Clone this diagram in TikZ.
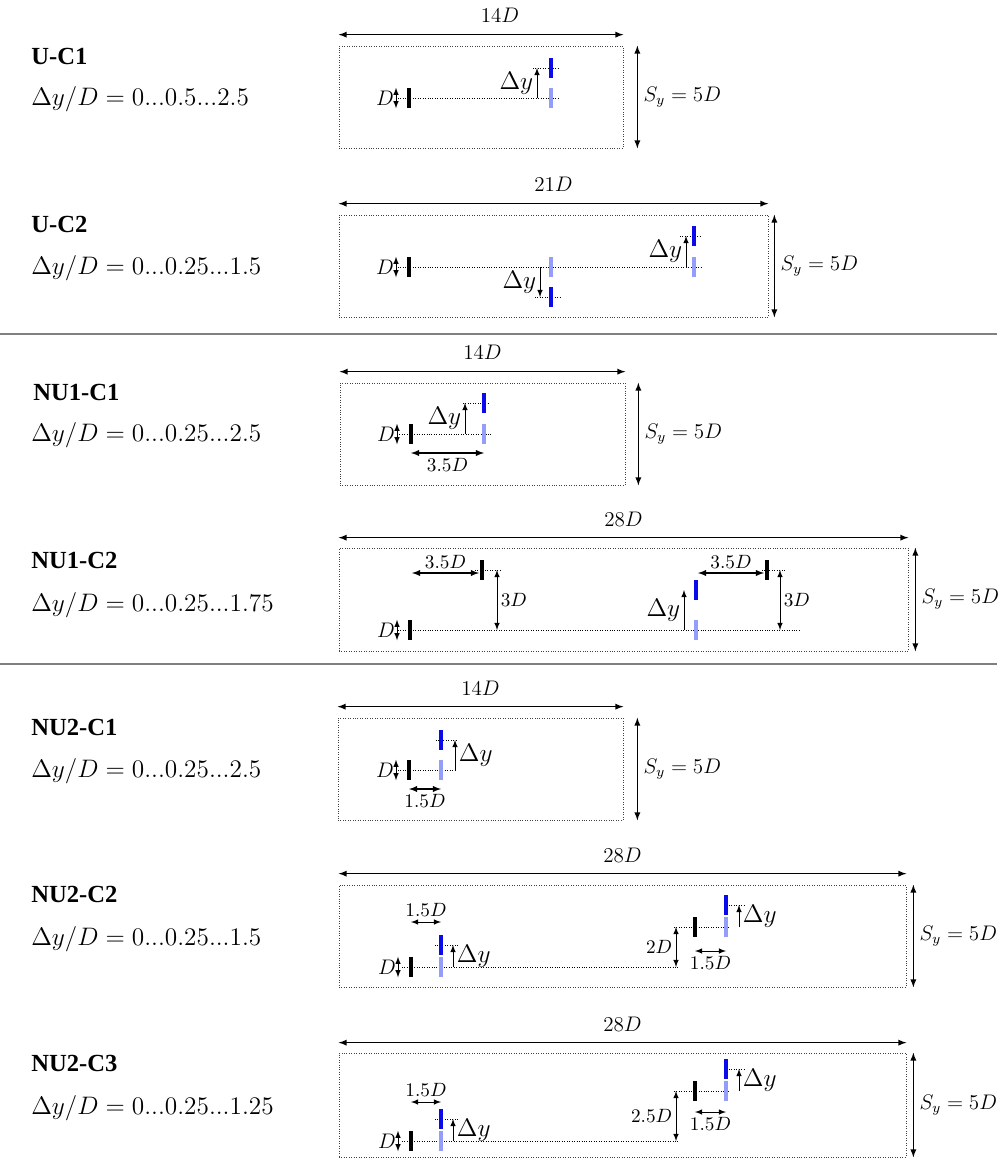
\documentclass[tikz,border=0pt]{standalone}
\usepackage{fontspec}
\usetikzlibrary{calc,fit,backgrounds}
\newfontfamily\casefont{Liberation Serif}

\definecolor{wakeblue}{RGB}{148,158,250}
\definecolor{shedblue}{RGB}{10,10,235}

\tikzset{
	cellbox/.style={draw=black!75, densely dotted, thin, inner sep=0pt},
	platebk/.style={rectangle, fill=black, inner sep=0pt, outer sep=0pt, minimum width=0.08cm, minimum height=0.41cm},
	plateld/.style={platebk, fill=wakeblue},
	platedk/.style={platebk, fill=shedblue},
	wakeline/.style={densely dotted, thin},
	spanarr/.style={<->, >=latex, semithick},
	dimarr/.style={<->, >=latex, thin},
	offarr/.style={->, >=latex, thin},
	big/.style={font=\fontsize{12}{14}\selectfont},
	delta/.style={font=\fontsize{14}{16}\selectfont, inner sep=2pt},
	small/.style={font=\fontsize{10.5}{12}\selectfont, inner sep=3pt},
	diam/.style={font=\fontsize{11.5}{13}\selectfont, inner sep=1pt},
	casename/.style={anchor=west, inner sep=0pt, font=\casefont\bfseries\fontsize{14}{16}\selectfont},
	caserange/.style={anchor=west, inner sep=0pt, font=\fontsize{14}{16}\selectfont},
	sepline/.style={draw=black!50, line width=0.8pt}
}

\begin{document}
\begin{tikzpicture}[x=0.02cm, y=-0.02cm]
	\useasboundingbox (0,0) rectangle (1000,1166);

	\node[casename] (t1) at (31,56) {U-C1};
	\node[caserange] (q1) at (31,99) {$\Delta y/D = 0...0.5...2.5$};
	\node[casename] (t2) at (31,224) {U-C2};
	\node[caserange] (q2) at (31,268) {$\Delta y/D = 0...0.25...1.5$};
	\node[casename] (t3) at (33,392) {NU1-C1};
	\node[caserange] (q3) at (31,435) {$\Delta y/D = 0...0.25...2.5$};
	\node[casename] (t4) at (31,560) {NU1-C2};
	\node[caserange] (q4) at (31,605) {$\Delta y/D = 0...0.25...1.75$};
	\node[casename] (t5) at (31,727) {NU2-C1};
	\node[caserange] (q5) at (31,771) {$\Delta y/D = 0...0.25...2.5$};
	\node[casename] (t6) at (31,894) {NU2-C2};
	\node[caserange] (q6) at (31,939) {$\Delta y/D = 0...0.25...1.5$};
	\node[casename] (t7) at (31,1063) {NU2-C3};
	\node[caserange] (q7) at (31,1108) {$\Delta y/D = 0...0.25...1.25$};

	\draw[sepline] (0,334) -- (997,334);
	\draw[sepline] (0,664) -- (997,664);

	% U-C1
	\node[cellbox, fit={(339,46) (623,148)}] (box1) {};
	\draw[spanarr] ($(box1.north west)+(0,-11)$) -- node[above=3pt, big, xshift=0.38cm]{$14D$} ($(box1.north east)+(0,-11)$);
	\draw[spanarr] ($(box1.north east)+(14,0)$) -- node[right, big]{$S_y = 5D$} ($(box1.south east)+(14,0)$);
	\node[platebk] (w1) at (409,98) {};
	\node[plateld] (n1) at (551,98) {};
	\node[platedk] (f1) at (551,68) {};
	\begin{scope}[on background layer]
		\draw[wakeline] ($(w1)+(-11,0)$) -- ($(n1)+(9,0)$);
		\draw[wakeline] ($(f1)+(-18,0)$) -- ($(f1)+(9,0)$);
	\end{scope}
	\draw[offarr] ($(n1)+(-14,0)$) -- node[left, delta]{$\Delta y$} ($(f1)+(-14,0)$);
	\draw[dimarr] ($(w1.north)+(-13,0)$) -- node[left, diam]{$D$} ($(w1.south)+(-13,0)$);

	% U-C2
	\node[cellbox, fit={(339,215) (768,317)}] (box2) {};
	\draw[spanarr] ($(box2.north west)+(0,-11)$) -- node[above=3pt, big]{$21D$} ($(box2.north east)+(0,-11)$);
	\draw[spanarr] ($(box2.north east)+(6,0)$) -- node[right, big]{$S_y = 5D$} ($(box2.south east)+(6,0)$);
	\node[platebk] (w2) at (409,267) {};
	\node[plateld] (n2) at (551,267) {};
	\node[platedk] (f2) at (551,297) {};
	\node[plateld] (nn2) at (694,267) {};
	\node[platedk] (ff2) at (694,236) {};
	\begin{scope}[on background layer]
		\draw[wakeline] ($(w2)+(-11,0)$) -- ($(nn2)+(9,0)$);
		\draw[wakeline] ($(f2)+(-16,0)$) -- ($(f2)+(9,0)$);
		\draw[wakeline] ($(ff2)+(-14,0)$) -- ($(ff2)+(7,0)$);
	\end{scope}
	\draw[offarr] ($(n2)+(-11,0)$) -- node[left, delta]{$\Delta y$} ($(f2)+(-11,0)$);
	\draw[offarr] ($(nn2)+(-8,0)$) -- node[left, delta]{$\Delta y$} ($(ff2)+(-8,0)$);
	\draw[dimarr] ($(w2.north)+(-13,0)$) -- node[left, diam]{$D$} ($(w2.south)+(-13,0)$);

	% NU1-C1
	\node[cellbox, fit={(340,383) (625,485)}] (box3) {};
	\draw[spanarr] ($(box3.north west)+(0,-11)$) -- node[above=3pt, big]{$14D$} ($(box3.north east)+(0,-11)$);
	\draw[spanarr] ($(box3.north east)+(13,0)$) -- node[right, big]{$S_y = 5D$} ($(box3.south east)+(13,0)$);
	\node[platebk] (w3) at (411,434) {};
	\node[plateld] (n3) at (484,434) {};
	\node[platedk] (f3) at (484,403) {};
	\begin{scope}[on background layer]
		\draw[wakeline] ($(w3)+(-14,0)$) -- ($(n3)+(8,0)$);
		\draw[wakeline] ($(f3)+(-21,0)$) -- ($(f3)+(6,0)$);
	\end{scope}
	\draw[offarr] ($(n3)+(-19,0)$) -- node[left, delta]{$\Delta y$} ($(f3)+(-19,0)$);
	\draw[dimarr] ($(w3.north)+(-14,0)$) -- node[left, diam]{$D$} ($(w3.south)+(-14,0)$);
	\draw[spanarr] ($(w3)+(0,19)$) -- node[below, small]{$3.5D$} ($(n3)+(0,19)$);

	% NU1-C2
	\node[cellbox, fit={(339,548) (908,651)}] (box4) {};
	\draw[spanarr] ($(box4.north west)+(0,-10)$) -- node[above=3pt, big]{$28D$} ($(box4.north east)+(0,-10)$);
	\draw[spanarr] ($(box4.north east)+(7,0)$) -- node[right, big]{$S_y = 5D$} ($(box4.south east)+(7,0)$);
	\node[platebk] (w4) at (410,630) {};
	\node[platebk] (u4) at (482,570) {};
	\node[plateld] (n4) at (696,630) {};
	\node[platedk] (f4) at (696,590) {};
	\node[platebk] (uu4) at (767,570) {};
	\begin{scope}[on background layer]
		\draw[wakeline] ($(w4)+(-12,0)$) -- ($(uu4|-w4)+(34,0)$);
		\draw[wakeline] ($(u4)+(-7,0)$) -- ($(u4)+(18,0)$);
		\draw[wakeline] ($(uu4)+(-5,0)$) -- ($(uu4)+(19,0)$);
	\end{scope}
	\draw[dimarr] ($(w4.north)+(-13,0)$) -- node[left, diam]{$D$} ($(w4.south)+(-13,0)$);
	\draw[spanarr] ($(u4)+(-70,3)$) -- node[above, small, inner sep=2pt]{$3.5D$} ($(u4.west)+(-1,3)$);
	\draw[dimarr] ($(u4)+(15,0)$) -- node[right, small, inner sep=2pt]{$3D$} ($(u4|-w4)+(15,0)$);
	\draw[offarr] ($(n4)+(-12,0)$) -- node[left, delta]{$\Delta y$} ($(f4)+(-12,0)$);
	\draw[spanarr] ($(n4|-uu4)+(2,3)$) -- node[above, small, inner sep=2pt]{$3.5D$} ($(uu4.west)+(-1,3)$);
	\draw[dimarr] ($(uu4)+(13,0)$) -- node[right, small, inner sep=2pt]{$3D$} ($(uu4|-w4)+(13,0)$);

	% NU2-C1
	\node[cellbox, fit={(338,718) (623,820)}] (box5) {};
	\draw[spanarr] ($(box5.north west)+(0,-11)$) -- node[above=3pt, big]{$14D$} ($(box5.north east)+(0,-11)$);
	\draw[spanarr] ($(box5.north east)+(14,0)$) -- node[right, big]{$S_y = 5D$} ($(box5.south east)+(14,0)$);
	\node[platebk] (w5) at (409,770) {};
	\node[plateld] (n5) at (441,770) {};
	\node[platedk] (f5) at (441,740) {};
	\begin{scope}[on background layer]
		\draw[wakeline] ($(w5)+(-11,0)$) -- ($(n5)+(14,0)$);
		\draw[wakeline] ($(f5)+(-5,0)$) -- ($(f5)+(17,0)$);
	\end{scope}
	\draw[offarr] ($(n5)+(14,0)$) -- node[right, delta]{$\Delta y$} ($(f5)+(14,0)$);
	\draw[dimarr] ($(w5.north)+(-13,0)$) -- node[left, diam]{$D$} ($(w5.south)+(-13,0)$);
	\draw[spanarr] ($(w5)+(0,19)$) -- node[below, small]{$1.5D$} ($(n5)+(0,19)$);

	% NU2-C2
	\node[cellbox, fit={(339,885) (906,987)}] (box6) {};
	\draw[spanarr] ($(box6.north west)+(0,-11)$) -- node[above=3pt, big]{$28D$} ($(box6.north east)+(0,-11)$);
	\draw[spanarr] ($(box6.north east)+(7,0)$) -- node[right, big]{$S_y = 5D$} ($(box6.south east)+(7,0)$);
	\node[platebk] (w6) at (411,967) {};
	\node[plateld] (n6) at (441,967) {};
	\node[platedk] (f6) at (441,945) {};
	\node[platebk] (u6) at (695,927) {};
	\node[plateld] (nn6) at (726,927) {};
	\node[platedk] (ff6) at (726,905) {};
	\begin{scope}[on background layer]
		\draw[wakeline] ($(w6)+(-9,0)$) -- ($(u6|-w6)+(-16,0)$);
		\draw[wakeline] ($(f6)+(-6,0)$) -- ($(f6)+(17,0)$);
		\draw[wakeline] ($(u6)+(-21,0)$) -- ($(nn6)+(4,0)$);
		\draw[wakeline] ($(ff6)+(-2,0)$) -- ($(ff6)+(19,0)$);
	\end{scope}
	\draw[dimarr] ($(w6.north)+(-13,0)$) -- node[left, diam]{$D$} ($(w6.south)+(-13,0)$);
	\draw[offarr] ($(n6)+(12,0)$) -- node[right, delta]{$\Delta y$} ($(f6)+(12,0)$);
	\draw[dimarr] ($(w6)+(0,-45)$) -- node[above, small]{$1.5D$} ($(n6)+(0,-45)$);
	\draw[offarr] ($(nn6)+(13,0)$) -- node[right, delta]{$\Delta y$} ($(ff6)+(13,0)$);
	\draw[dimarr] ($(u6)+(-19,0)$) -- node[left, small, inner sep=2pt]{$2D$} ($(u6|-w6)+(-19,0)$);
	\draw[dimarr] ($(u6)+(0,24)$) -- node[below, small]{$1.5D$} ($(nn6)+(0,24)$);

	% NU2-C3
	\node[cellbox, fit={(339,1053) (906,1157)}] (box7) {};
	\draw[spanarr] ($(box7.north west)+(0,-10)$) -- node[above=3pt, big]{$28D$} ($(box7.north east)+(0,-10)$);
	\draw[spanarr] ($(box7.north east)+(7,0)$) -- node[right, big]{$S_y = 5D$} ($(box7.south east)+(7,0)$);
	\node[platebk] (w7) at (411,1141) {};
	\node[plateld] (n7) at (441,1141) {};
	\node[platedk] (f7) at (441,1119) {};
	\node[platebk] (u7) at (695,1091) {};
	\node[plateld] (nn7) at (726,1091) {};
	\node[platedk] (ff7) at (726,1069) {};
	\begin{scope}[on background layer]
		\draw[wakeline] ($(w7)+(-9,0)$) -- ($(u7|-w7)+(-16,0)$);
		\draw[wakeline] ($(f7)+(-6,0)$) -- ($(f7)+(17,0)$);
		\draw[wakeline] ($(u7)+(-21,0)$) -- ($(nn7)+(4,0)$);
		\draw[wakeline] ($(ff7)+(-2,0)$) -- ($(ff7)+(19,0)$);
	\end{scope}
	\draw[dimarr] ($(w7.north)+(-13,0)$) -- node[left, diam]{$D$} ($(w7.south)+(-13,0)$);
	\draw[offarr] ($(n7)+(12,0)$) -- node[right, delta]{$\Delta y$} ($(f7)+(12,0)$);
	\draw[dimarr] ($(w7)+(0,-39)$) -- node[above, small]{$1.5D$} ($(n7)+(0,-39)$);
	\draw[offarr] ($(nn7)+(13,0)$) -- node[right, delta]{$\Delta y$} ($(ff7)+(13,0)$);
	\draw[dimarr] ($(u7)+(-19,0)$) -- node[left, small, inner sep=2pt]{$2.5D$} ($(u7|-w7)+(-19,0)$);
	\draw[dimarr] ($(u7)+(0,21)$) -- node[below, small]{$1.5D$} ($(nn7)+(0,21)$);

\end{tikzpicture}
\end{document}
